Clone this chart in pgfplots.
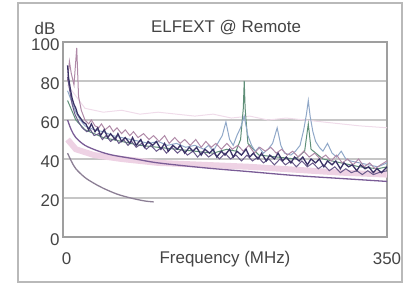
\documentclass[border=0pt]{standalone}
\usepackage{pgfplots}
\pgfplotsset{compat=1.18}
\usepackage{fontspec}
\setmainfont{Liberation Sans}
\definecolor{navy}{HTML}{3A3266}
\definecolor{dpurp}{HTML}{6A5A8A}
\definecolor{mauve}{HTML}{B08AA8}
\definecolor{steel}{HTML}{90A8C8}
\definecolor{grn}{HTML}{5F8F78}
\definecolor{lpink}{HTML}{EED2E4}
\definecolor{fpink}{HTML}{F0DCEA}
\definecolor{lim1}{HTML}{7A5C96}
\definecolor{lim2}{HTML}{8C7F95}
\definecolor{txt}{HTML}{444444}
\begin{document}
\begin{tikzpicture}
\path[use as bounding box] (0bp,0bp) rectangle (407bp,284bp);
\draw[gray!55, line width=2bp] (18bp,2bp) rectangle (402bp,281bp);
\node[txt, font=\fontsize{17}{20}\selectfont] at (226bp,256bp) {ELFEXT @ Remote};
\node[txt, font=\fontsize{17}{20}\selectfont] at (45bp,256bp) {dB};
\begin{axis}[
  at={(63bp,47bp)}, anchor=south west, scale only axis,
  width=324bp, height=195bp,
  xmin=-4, xmax=350, ymin=0, ymax=100,
  xtick={0,350}, ytick={0,20,40,60,80,100},
  ymajorgrids, grid style={gray!45, line width=1.6bp},
  axis line style={gray!75, line width=2bp},
  major tick length=0pt,
  /pgf/number format/assume math mode=true,
  tick label style={txt, font=\fontsize{17}{20}\selectfont},
  xticklabel style={anchor=center, yshift=-22bp},
  yticklabel style={yshift=-3bp},
  xlabel={Frequency (MHz)},
  xlabel style={txt, font=\fontsize{17}{20}\selectfont, at={(axis description cs:0.5,0)}, anchor=center, yshift=-22bp},
  clip=true,
]
% faint top pink trace
\addplot[fpink, line width=1bp] coordinates {(1,78)(20,66)(40,64)(60,65)(80,63)(100,64)(120,63)(140,62)(160,63)(180,61)(200,62)(220,60)(240,61)(260,60)(280,59)(300,58)(320,57)(350,56)};
% pink lower band
\addplot[lpink, line width=6bp] coordinates {(1,50)(10,45)(30,42)(60,40)(100,38)(150,37)(200,36)(250,34.5)(300,33)(350,32)};
% limit 2 (grey, short)
\addplot[lim2, line width=1.3bp, smooth] coordinates {(1,43)(5,39)(10,35)(20,30.5)(30,27.5)(40,25)(55,22)(70,20)(85,18.5)(95,18)};
% limit 1
\addplot[lim1, line width=1.3bp, smooth] coordinates {(1,60)(5,55)(10,51)(20,47)(35,44)(50,42)(75,40)(100,38)(150,35.5)(200,33.5)(250,31.5)(300,30)(350,28.5)};
% green trace
\addplot[grn, line width=1bp] coordinates {(1,70)(10,60)(20,55)(40,51)(60,49)(80,47)(100,46)(120,45)(140,44)(160,43)(175,45)(185,44)(190,50)(193,66)(194,80)(195,66)(198,48)(210,42)(230,41)(250,40)(260,44)(264,58)(267,45)(280,40)(300,38)(320,36)(340,35)(350,36)};
% steel blue trace
\addplot[steel, line width=1bp] coordinates {(1,75)(5,70)(10,64)(15,60)(20,57)(30,55)(40,54)(50,52)(60,51)(70,50)(80,49)(90,48)(100,49)(110,47)(120,48)(130,46)(140,47)(150,45)(155,47)(160,44)(165,48)(170,52)(174,59)(178,50)(182,47)(186,52)(190,56)(194,62)(198,52)(202,47)(206,44)(210,46)(215,43)(220,45)(225,48)(230,56)(234,47)(238,43)(245,42)(250,44)(255,47)(259,55)(262,63)(264,70)(266,62)(269,54)(272,49)(276,46)(280,44)(285,48)(290,43)(295,41)(300,44)(305,40)(310,39)(320,38)(330,37)(340,36)(350,38)};
% mauve trace
\addplot[mauve, line width=1bp] coordinates {(1,80)(3,90)(5,84)(8,78)(11,97)(13,72)(16,65)(20,60)(24,58)(27,60)(31,57)(35,56)(38,58)(42,55)(47,57)(51,54)(55,56)(60,53)(64,55)(69,52)(73,54)(78,51)(84,53)(90,50)(95,52)(101,49)(107,52)(112,48)(118,51)(124,48)(129,50)(135,47)(141,50)(147,46)(152,49)(158,46)(163,48)(169,45)(175,48)(181,45)(187,47)(193,44)(199,47)(205,43)(211,46)(217,44)(223,46)(229,43)(235,45)(241,42)(247,44)(253,41)(259,44)(265,41)(271,43)(277,40)(283,42)(289,39)(295,42)(301,38)(307,40)(313,37)(319,40)(325,36)(331,38)(337,35)(343,37)(350,39)};
% dark purple second trace
\addplot[dpurp, line width=1bp] coordinates {(1,82)(3,76)(6,68)(9,63)(13,59)(17,56)(22,54)(26,55)(30,52)(35,53)(39,50)(43,52)(48,49)(53,51)(57,48)(62,50)(67,47)(71,49)(76,46)(82,48)(87,45)(92,47)(98,44)(104,46)(109,43)(115,46)(121,43)(126,45)(132,42)(138,44)(143,41)(149,44)(155,41)(161,43)(167,40)(173,43)(179,40)(185,42)(191,39)(197,42)(203,39)(209,41)(215,38)(221,40)(227,37)(233,40)(239,37)(245,39)(251,36)(257,39)(263,36)(269,38)(275,35)(281,37)(287,34)(293,36)(299,33)(305,35)(311,33)(317,34)(323,32)(329,34)(335,32)(341,33)(350,34)};
% navy main trace
\addplot[navy, line width=1.3bp] coordinates {(1,88)(2,82)(4,76)(6,71)(8,68)(10,66)(12,63)(15,61)(18,59)(21,58)(24,55)(27,58)(31,54)(34,56)(37,52)(41,55)(45,51)(48,53)(53,50)(56,53)(60,49)(64,51)(69,48)(72,51)(76,47)(81,50)(85,46)(89,49)(94,47)(98,49)(103,45)(107,48)(111,44)(116,47)(121,45)(124,47)(129,43)(134,46)(138,44)(142,46)(147,42)(151,45)(156,43)(160,45)(164,41)(169,44)(173,42)(178,45)(182,41)(186,44)(191,42)(196,45)(200,41)(204,43)(209,40)(213,43)(218,39)(222,42)(227,40)(231,43)(236,39)(240,41)(245,38)(249,41)(254,39)(258,41)(263,37)(267,40)(272,38)(276,40)(281,36)(285,39)(290,37)(294,39)(299,35)(303,38)(308,36)(312,37)(317,34)(321,37)(326,35)(330,36)(335,33)(339,35)(344,33)(350,36)};
\end{axis}
\end{tikzpicture}
\end{document}
